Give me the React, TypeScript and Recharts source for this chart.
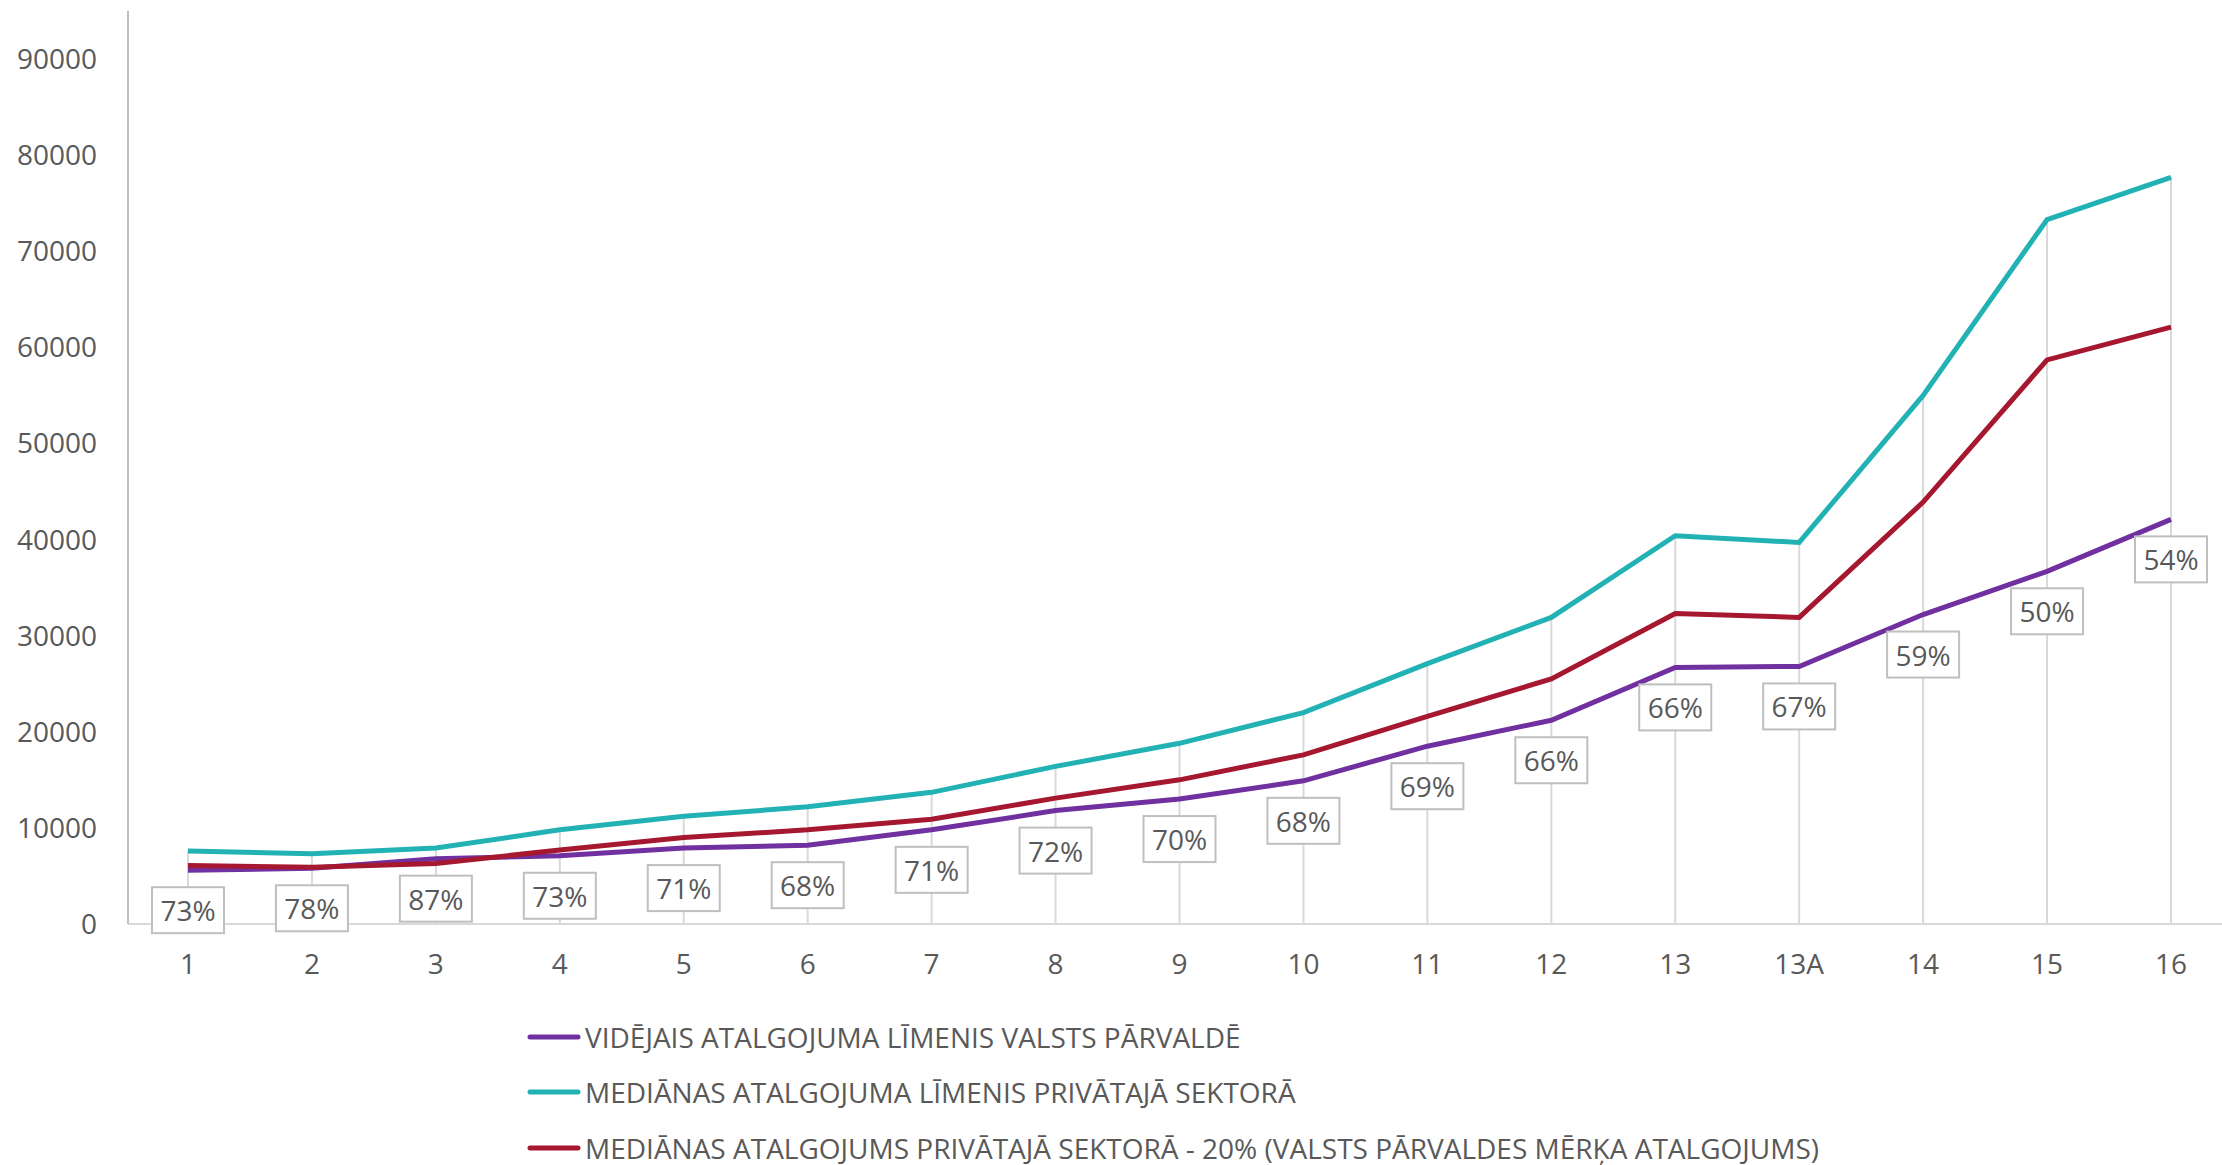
import { LineChart, Line, XAxis, YAxis, ReferenceLine, LabelList, Legend } from "recharts";

const categories = ["1", "2", "3", "4", "5", "6", "7", "8", "9", "10", "11", "12", "13", "13A", "14", "15", "16"];

// vidējais atalgojums valsts pārvaldē
const stateAverage = [5600, 5800, 6800, 7100, 7900, 8200, 9800, 11800, 13000, 14900, 18500, 21200, 26700, 26800, 32200, 36700, 42100];
// mediāna privātajā sektorā
const privateMedian = [7600, 7300, 7900, 9800, 11200, 12200, 13700, 16400, 18800, 22000, 27100, 31900, 40400, 39700, 55000, 73300, 77700];
// mediāna - 20% (mērķa atalgojums)
const targetPay = [6100, 5900, 6300, 7700, 9000, 9800, 10900, 13100, 15000, 17600, 21600, 25500, 32300, 31900, 43900, 58700, 62100];

const ratioLabels = ["73%", "78%", "87%", "73%", "71%", "68%", "71%", "72%", "70%", "68%", "69%", "66%", "66%", "67%", "59%", "50%", "54%"];

const yTicks = [0, 10000, 20000, 30000, 40000, 50000, 60000, 70000, 80000, 90000];

const PURPLE = "#7030A0";
const TEAL = "#22B2B4";
const RED = "#A5182F";
const TEXT = "#595959";
const FONT = "'Open Sans', sans-serif";

const legendItems = [
  { name: "VIDĒJAIS ATALGOJUMA LĪMENIS VALSTS PĀRVALDĒ", color: PURPLE },
  { name: "MEDIĀNAS ATALGOJUMA LĪMENIS PRIVĀTAJĀ SEKTORĀ", color: TEAL },
  { name: "MEDIĀNAS ATALGOJUMS PRIVĀTAJĀ SEKTORĀ - 20% (VALSTS PĀRVALDES MĒRĶA ATALGOJUMS)", color: RED },
];

const data = categories.map((cat, i) => ({
  cat,
  state: stateAverage[i],
  median: privateMedian[i],
  target: targetPay[i],
  ratio: ratioLabels[i],
}));

function RatioLabel(props: any) {
  const { x, y, value } = props;
  const w = 72;
  const h = 46;
  const cy = y + 40;
  return (
    <g>
      <rect x={x - w / 2} y={cy - h / 2} width={w} height={h} fill="#fff" stroke="#BFBFBF" strokeWidth={2} />
      <text x={x} y={cy} textAnchor="middle" dominantBaseline="central" fontSize={28} fill={TEXT} fontFamily={FONT}>
        {value}
      </text>
    </g>
  );
}

function LegendBox() {
  return (
    <div style={{ fontFamily: FONT }}>
      {legendItems.map((item) => (
        <div key={item.name} style={{ display: "flex", alignItems: "center", height: 55.5 }}>
          <svg width={54} height={10}>
            <line x1={3} y1={5} x2={51} y2={5} stroke={item.color} strokeWidth={5} strokeLinecap="round" />
          </svg>
          <span style={{ marginLeft: 4, fontSize: 28, color: TEXT, whiteSpace: "nowrap" }}>{item.name}</span>
        </div>
      ))}
    </div>
  );
}

export default function App() {
  return (
    <div style={{ position: "absolute", left: 0, top: 0, width: 2222, height: 1165, background: "#fff" }}>
      <LineChart width={2222} height={1165} data={data} margin={{ top: 11, right: 0, left: 0, bottom: 181 }}>
        <XAxis
          dataKey="cat"
          height={60}
          padding={{ left: 60, right: 51 }}
          axisLine={{ stroke: "#D9D9D9", strokeWidth: 2 }}
          tickLine={false}
          tickSize={0}
          tickMargin={30}
          interval={0}
          tick={{ fontSize: 28, fill: TEXT, fontFamily: FONT }}
        />
        <XAxis
          xAxisId="top"
          dataKey="cat"
          orientation="top"
          height={0}
          tick={false}
          tickLine={false}
          axisLine={{ stroke: "#BFBFBF", strokeWidth: 2 }}
        />
        <YAxis
          width={128}
          domain={[0, 95000]}
          ticks={yTicks}
          interval={0}
          axisLine={{ stroke: "#BFBFBF", strokeWidth: 2 }}
          tickLine={false}
          tickSize={0}
          tickMargin={31}
          tick={{ fontSize: 28, fill: TEXT, fontFamily: FONT }}
        />
        {data.map((d) => (
          <ReferenceLine
            key={d.cat}
            segment={[
              { x: d.cat, y: 0 },
              { x: d.cat, y: Math.max(d.state, d.median, d.target) },
            ]}
            stroke="#D9D9D9"
            strokeWidth={2}
          />
        ))}
        <Line
          type="linear"
          dataKey="state"
          name={legendItems[0].name}
          stroke={PURPLE}
          strokeWidth={5}
          dot={false}
          activeDot={false}
          isAnimationActive={false}
        />
        <Line
          type="linear"
          dataKey="median"
          name={legendItems[1].name}
          stroke={TEAL}
          strokeWidth={5}
          dot={false}
          activeDot={false}
          isAnimationActive={false}
        />
        <Line
          type="linear"
          dataKey="target"
          name={legendItems[2].name}
          stroke={RED}
          strokeWidth={5}
          dot={false}
          activeDot={false}
          isAnimationActive={false}
        />
        <Line
          type="linear"
          dataKey="state"
          stroke="none"
          dot={false}
          activeDot={false}
          legendType="none"
          isAnimationActive={false}
        >
          <LabelList dataKey="ratio" content={<RatioLabel />} />
        </Line>
        <Legend
          layout="vertical"
          align="center"
          verticalAlign="middle"
          content={<LegendBox />}
          wrapperStyle={{ left: 527, top: 1009, width: 1500, height: 170 }}
        />
      </LineChart>
    </div>
  );
}
